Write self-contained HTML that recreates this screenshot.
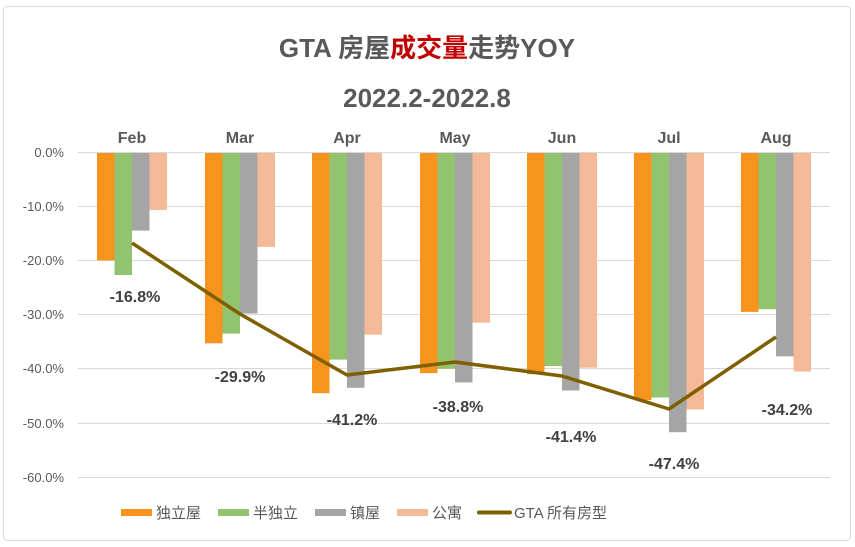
<!DOCTYPE html><html><head><meta charset="utf-8"><style>body{margin:0;background:#fff}svg{display:block}</style></head><body>
<svg width="855" height="547" xmlns="http://www.w3.org/2000/svg" font-family="Liberation Sans, Noto Sans CJK SC, sans-serif">
<rect x="0" y="0" width="855" height="547" fill="#fff"/>
<rect x="3.5" y="6.5" width="847" height="534" rx="4" fill="#fff" stroke="#d9d9d9"/>
<text x="427" y="57" text-anchor="middle" font-size="26" font-weight="bold" fill="#595959">GTA 房屋<tspan fill="#c00000">成交量</tspan>走势YOY</text>
<text x="427" y="107" text-anchor="middle" font-size="26" font-weight="bold" fill="#595959">2022.2-2022.8</text>
<g stroke="#d9d9d9" stroke-width="1">
<line x1="78" x2="830" y1="206.5" y2="206.5"/><line x1="78" x2="830" y1="260.5" y2="260.5"/><line x1="78" x2="830" y1="314.5" y2="314.5"/><line x1="78" x2="830" y1="368.5" y2="368.5"/><line x1="78" x2="830" y1="423.5" y2="423.5"/><line x1="78" x2="830" y1="477.5" y2="477.5"/>
</g>
<g font-size="13" fill="#595959" text-anchor="end">
<text x="64" y="157">0.0%</text><text x="64" y="211">-10.0%</text><text x="64" y="265">-20.0%</text><text x="64" y="319">-30.0%</text><text x="64" y="373">-40.0%</text><text x="64" y="428">-50.0%</text><text x="64" y="482">-60.0%</text>
</g>
<g font-size="16" font-weight="bold" fill="#595959" text-anchor="middle">
<text x="132" y="143">Feb</text><text x="240" y="143">Mar</text><text x="347" y="143">Apr</text><text x="455" y="143">May</text><text x="562" y="143">Jun</text><text x="669" y="143">Jul</text><text x="776" y="143">Aug</text>
</g>
<g>
<rect x="97" y="152" width="17.5" height="108.4" fill="#f7941d"/><rect x="114.5" y="152" width="17.5" height="123" fill="#92c46f"/><rect x="132" y="152" width="17.5" height="78.6" fill="#a5a5a5"/><rect x="149.5" y="152" width="17.5" height="58" fill="#f4b996"/>
<rect x="205" y="152" width="17.5" height="191.3" fill="#f7941d"/><rect x="222.5" y="152" width="17.5" height="181.6" fill="#92c46f"/><rect x="240" y="152" width="17.5" height="161.5" fill="#a5a5a5"/><rect x="257.5" y="152" width="17.5" height="94.9" fill="#f4b996"/>
<rect x="312" y="152" width="17.5" height="241.2" fill="#f7941d"/><rect x="329.5" y="152" width="17.5" height="207.6" fill="#92c46f"/><rect x="347" y="152" width="17.5" height="235.8" fill="#a5a5a5"/><rect x="364.5" y="152" width="17.5" height="182.7" fill="#f4b996"/>
<rect x="420" y="152" width="17.5" height="221.1" fill="#f7941d"/><rect x="437.5" y="152" width="17.5" height="216.8" fill="#92c46f"/><rect x="455" y="152" width="17.5" height="230.4" fill="#a5a5a5"/><rect x="472.5" y="152" width="17.5" height="170.7" fill="#f4b996"/>
<rect x="527" y="152" width="17.5" height="222.2" fill="#f7941d"/><rect x="544.5" y="152" width="17.5" height="214.1" fill="#92c46f"/><rect x="562" y="152" width="17.5" height="238.5" fill="#a5a5a5"/><rect x="579.5" y="152" width="17.5" height="215.7" fill="#f4b996"/>
<rect x="634" y="152" width="17.5" height="248.2" fill="#f7941d"/><rect x="651.5" y="152" width="17.5" height="245.5" fill="#92c46f"/><rect x="669" y="152" width="17.5" height="280.2" fill="#a5a5a5"/><rect x="686.5" y="152" width="17.5" height="257.5" fill="#f4b996"/>
<rect x="741" y="152" width="17.5" height="159.9" fill="#f7941d"/><rect x="758.5" y="152" width="17.5" height="157.2" fill="#92c46f"/><rect x="776" y="152" width="17.5" height="204.3" fill="#a5a5a5"/><rect x="793.5" y="152" width="17.5" height="219.5" fill="#f4b996"/>
</g>
<line x1="78" x2="830" y1="152.5" y2="152.5" stroke="#d9d9d9"/>
<polyline points="132,243 240,314 347,375 455,362 562,376 669,409 776,337" fill="none" stroke="#7f6000" stroke-width="3.5" stroke-linejoin="round"/>
<g font-size="16" font-weight="bold" fill="#404040" text-anchor="middle">
<text x="135" y="302">-16.8%</text><text x="240" y="382">-29.9%</text><text x="352" y="425">-41.2%</text><text x="458" y="412">-38.8%</text><text x="571" y="442">-41.4%</text><text x="674" y="469">-47.4%</text><text x="787" y="415">-34.2%</text>
</g>
<g font-size="15" fill="#595959">
<rect x="121" y="509" width="31" height="7" fill="#f7941d"/><text x="156" y="518">独立屋</text>
<rect x="218" y="509" width="31" height="7" fill="#92c46f"/><text x="253" y="518">半独立</text>
<rect x="315" y="509" width="31" height="7" fill="#a5a5a5"/><text x="350" y="518">镇屋</text>
<rect x="397" y="509" width="31" height="7" fill="#f4b996"/><text x="432" y="518">公寓</text>
<line x1="479" x2="510" y1="512.5" y2="512.5" stroke="#7f6000" stroke-width="4" stroke-linecap="round"/><text x="514" y="518">GTA 所有房型</text>
</g>
</svg>
</body></html>
